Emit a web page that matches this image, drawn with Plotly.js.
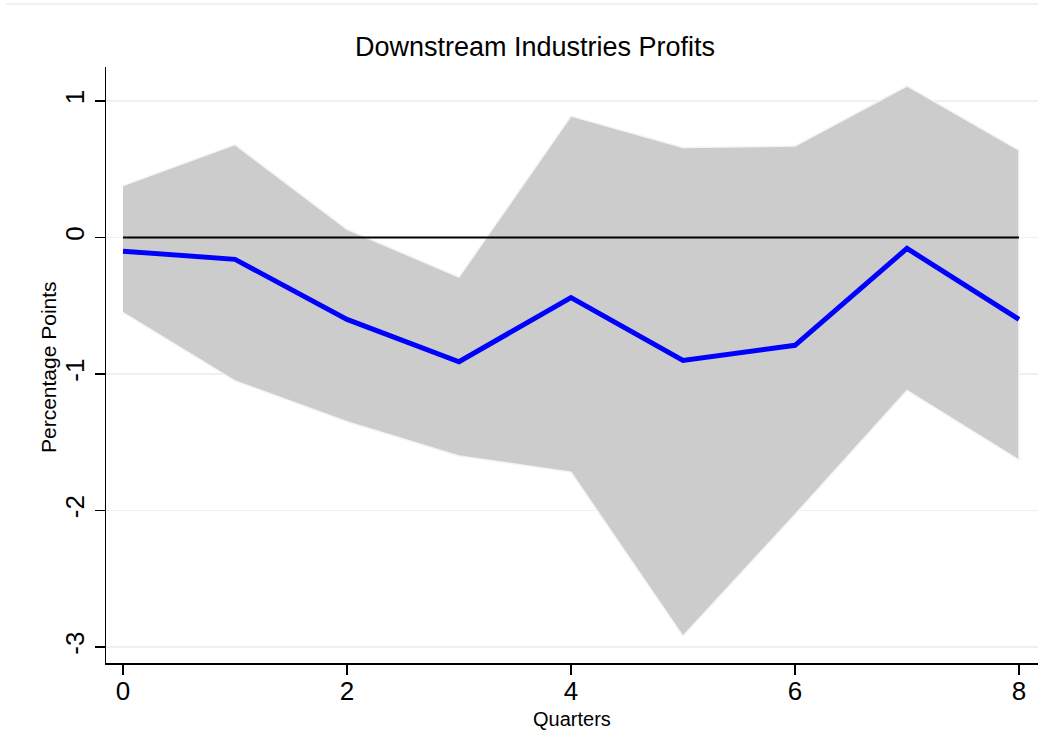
<!DOCTYPE html>
<html>
<head>
<meta charset="utf-8">
<script src="https://cdn.plot.ly/plotly-3.0.1.min.js"></script>
<style>
  html, body { margin: 0; padding: 0; background: #fff; }
  #irf { width: 1048px; height: 730px; }
</style>
</head>
<body>
<div id="irf"></div>
<script>
  // quarters after the shock
  let quarters = [0, 1, 2, 3, 4, 5, 6, 7, 8];
  // impulse response (percentage points)
  let response = [-0.10, -0.16, -0.60, -0.91, -0.44, -0.90, -0.79, -0.08, -0.60];
  // confidence band
  let upper = [0.38, 0.68, 0.06, -0.29, 0.89, 0.66, 0.67, 1.11, 0.64];
  let lower = [-0.55, -1.05, -1.35, -1.60, -1.72, -2.92, -2.03, -1.12, -1.63];
  let zero = [0, 0, 0, 0, 0, 0, 0, 0, 0];

  let xTicks = [0, 2, 4, 6, 8];
  let yTicks = [-3, -2, -1, 0, 1];

  let font = "'Liberation Sans', Arial, Helvetica, sans-serif";

  let traces = [
    {
      // band: upper edge forward, lower edge back
      x: quarters.concat(quarters.slice().reverse()),
      y: upper.concat(lower.slice().reverse()),
      mode: "lines",
      fill: "toself",
      fillcolor: "#cccccc",
      line: { color: "#f4f4f4", width: 1.5 },
      hoverinfo: "skip",
    },
    {
      x: quarters,
      y: zero,
      mode: "lines",
      line: { color: "#000000", width: 2 },
    },
    {
      x: quarters,
      y: response,
      mode: "lines",
      line: { color: "#0000ff", width: 5 },
    },
  ];

  let layout = {
    width: 1048,
    height: 730,
    margin: { l: 106, r: 10, t: 67, b: 67 },
    paper_bgcolor: "#ffffff",
    plot_bgcolor: "#ffffff",
    showlegend: false,
    font: { family: font, color: "#000000" },
    title: {
      text: "Downstream Industries Profits",
      font: { family: font, size: 27, color: "#000000" },
      x: 535 / 1048,
      xref: "container",
      xanchor: "center",
      y: 1 - 47 / 730,
      yref: "container",
      yanchor: "middle",
    },
    xaxis: {
      range: [-0.152, 8.17],
      tickvals: xTicks,
      ticktext: xTicks.map(String),
      ticks: "outside",
      ticklen: 10,
      tickwidth: 1.5,
      tickcolor: "#000000",
      ticklabelstandoff: -6,
      showline: true,
      linecolor: "#000000",
      linewidth: 1.5,
      showgrid: false,
      zeroline: false,
      tickfont: { family: font, size: 26 },
    },
    yaxis: {
      range: [-3.117, 1.249],
      tickvals: yTicks,
      ticktext: yTicks.map(String),
      tickangle: -90,
      ticks: "outside",
      ticklen: 10,
      tickwidth: 1.5,
      tickcolor: "#000000",
      showline: true,
      linecolor: "#000000",
      linewidth: 1.5,
      showgrid: true,
      gridcolor: "#eaf2f3",
      gridwidth: 1.5,
      zeroline: false,
      tickfont: { family: font, size: 26 },
    },
    annotations: [
      {
        text: "Quarters",
        xref: "paper",
        yref: "paper",
        x: 0.5,
        y: (663 - 719) / 596,
        xanchor: "center",
        yanchor: "middle",
        showarrow: false,
        font: { family: font, size: 20 },
      },
      {
        text: "Percentage Points",
        xref: "paper",
        yref: "paper",
        x: (48 - 106) / 932,
        y: (663 - 367) / 596,
        xanchor: "center",
        yanchor: "middle",
        textangle: -90,
        showarrow: false,
        font: { family: font, size: 21 },
      },
    ],
    shapes: [
      {
        // faint outer frame line at the top of the graph region
        type: "line",
        xref: "paper",
        yref: "paper",
        x0: -100 / 932,
        x1: 1.0,
        y0: 1 + 63 / 596,
        y1: 1 + 63 / 596,
        line: { color: "#e6eef0", width: 1.5 },
      },
    ],
  };

  Plotly.newPlot(document.getElementById("irf"), traces, layout, {
    displayModeBar: false,
    staticPlot: true,
  });
</script>
</body>
</html>
